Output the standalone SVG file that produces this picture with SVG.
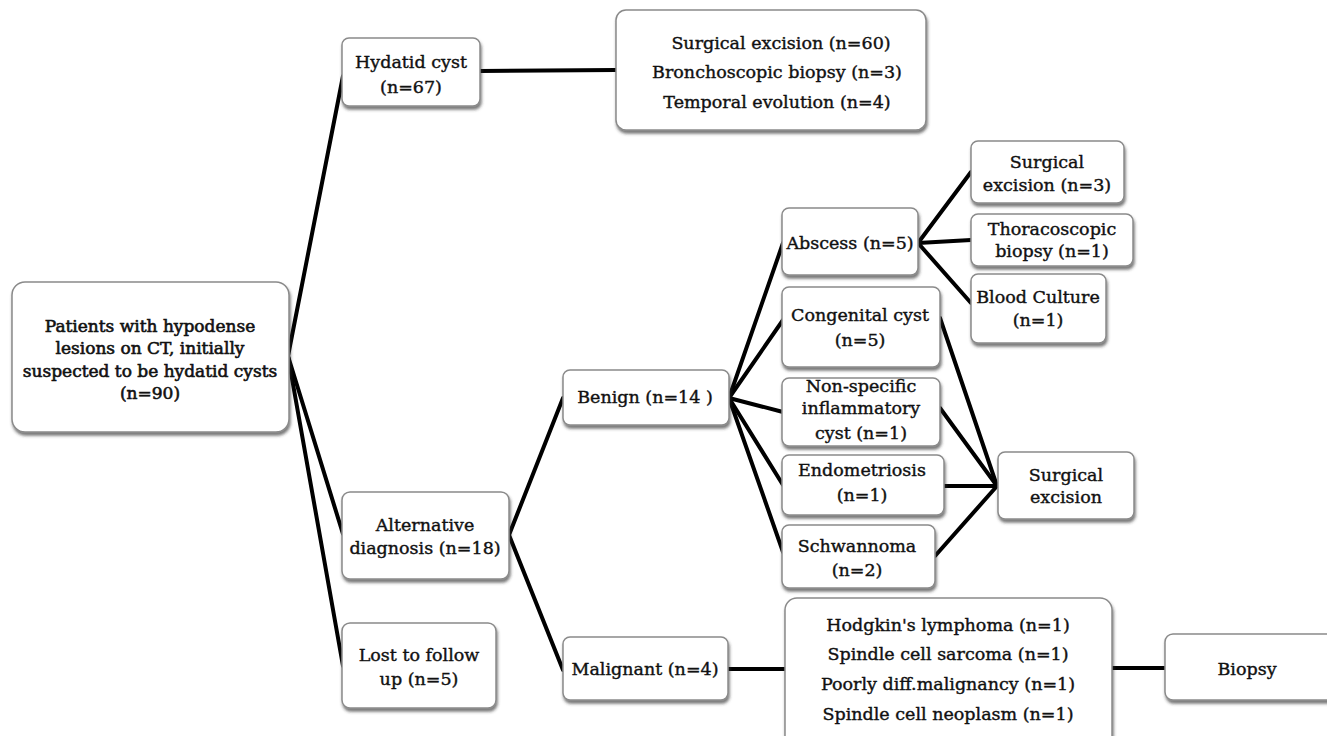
<svg xmlns="http://www.w3.org/2000/svg" width="1327" height="736" viewBox="0 0 1327 736">
<defs>
<filter id="sh" x="-10%" y="-10%" width="120%" height="130%">
<feDropShadow dx="1" dy="3" stdDeviation="1.6" flood-color="#333" flood-opacity="0.65"/>
</filter>
</defs>
<style>
.box{fill:#fff;stroke:#8a8a8a;stroke-width:1.5;filter:url(#sh)}
.t{font-family:"DejaVu Serif","Liberation Serif",serif;font-size:17.5px;fill:#111;stroke:#111;stroke-width:0.4;text-anchor:middle}
.b{font-size:17px;stroke-width:0.6}
.c{stroke:#000;stroke-width:4;fill:none;stroke-linecap:round}
</style>
<rect width="1327" height="736" fill="#fff"/>
<g id="connectors">
<line class="c" x1="288" y1="356" x2="343" y2="76"/>
<line class="c" x1="288" y1="356" x2="343" y2="534"/>
<line class="c" x1="288" y1="356" x2="343" y2="666"/>
<line class="c" x1="480" y1="71" x2="616" y2="70"/>
<line class="c" x1="509" y1="535" x2="563" y2="398"/>
<line class="c" x1="509" y1="535" x2="563" y2="670"/>
<line class="c" x1="729" y1="398" x2="783" y2="243"/>
<line class="c" x1="729" y1="398" x2="783" y2="320"/>
<line class="c" x1="729" y1="398" x2="783" y2="412"/>
<line class="c" x1="729" y1="398" x2="783" y2="485"/>
<line class="c" x1="729" y1="398" x2="783" y2="552"/>
<line class="c" x1="918" y1="243" x2="971" y2="172"/>
<line class="c" x1="918" y1="243" x2="971" y2="240"/>
<line class="c" x1="918" y1="243" x2="971" y2="303"/>
<line class="c" x1="940" y1="318" x2="997" y2="486"/>
<line class="c" x1="940" y1="408" x2="997" y2="486"/>
<line class="c" x1="944" y1="486" x2="997" y2="486"/>
<line class="c" x1="935" y1="556" x2="997" y2="486"/>
<line class="c" x1="728" y1="669" x2="785" y2="669"/>
<line class="c" x1="1112" y1="668" x2="1165" y2="668"/>
</g>
<g id="root">
<rect class="box" x="12" y="282" width="277" height="150" rx="13"/>
<text class="t b" x="150" y="332">Patients with hypodense</text>
<text class="t b" x="150" y="354">lesions on CT, initially</text>
<text class="t b" x="150" y="377">suspected to be hydatid cysts</text>
<text class="t b" x="150" y="399">(n=90)</text>
</g>
<g id="hydatid">
<rect class="box" x="342" y="38" width="138" height="68" rx="7"/>
<text class="t" x="411" y="68">Hydatid cyst</text>
<text class="t" x="411" y="93">(n=67)</text>
</g>
<g id="hydatid-outcome">
<rect class="box" x="616" y="10" width="310" height="120" rx="10"/>
<text class="t" x="781" y="49">Surgical  excision (n=60)</text>
<text class="t" x="777" y="78">Bronchoscopic biopsy (n=3)</text>
<text class="t" x="777" y="108">Temporal  evolution (n=4)</text>
</g>
<g id="abscess">
<rect class="box" x="782" y="208" width="136" height="67" rx="7"/>
<text class="t" x="850" y="249">Abscess (n=5)</text>
</g>
<g id="abscess-surgical">
<rect class="box" x="971" y="141" width="153" height="62" rx="7"/>
<text class="t" x="1047" y="168">Surgical</text>
<text class="t" x="1047" y="191">excision (n=3)</text>
</g>
<g id="thoracoscopic">
<rect class="box" x="971" y="214" width="162" height="52" rx="7"/>
<text class="t" x="1052" y="235">Thoracoscopic</text>
<text class="t" x="1052" y="257">biopsy (n=1)</text>
</g>
<g id="blood-culture">
<rect class="box" x="971" y="274" width="135" height="69" rx="7"/>
<text class="t" x="1038" y="303">Blood Culture</text>
<text class="t" x="1038" y="326">(n=1)</text>
</g>
<g id="congenital">
<rect class="box" x="782" y="287" width="158" height="80" rx="7"/>
<text class="t" x="860" y="321">Congenital cyst</text>
<text class="t" x="860" y="346">(n=5)</text>
</g>
<g id="nonspecific">
<rect class="box" x="782" y="378" width="158" height="68" rx="7"/>
<text class="t" x="861" y="392">Non-specific</text>
<text class="t" x="861" y="414">inflammatory</text>
<text class="t" x="861" y="439">cyst (n=1)</text>
</g>
<g id="endometriosis">
<rect class="box" x="782" y="455" width="162" height="60" rx="7"/>
<text class="t" x="862" y="476">Endometriosis</text>
<text class="t" x="862" y="501">(n=1)</text>
</g>
<g id="schwannoma">
<rect class="box" x="782" y="525" width="153" height="63" rx="7"/>
<text class="t" x="857" y="552">Schwannoma</text>
<text class="t" x="857" y="576">(n=2)</text>
</g>
<g id="benign-surgical">
<rect class="box" x="998" y="452" width="136" height="67" rx="7"/>
<text class="t" x="1066" y="481">Surgical</text>
<text class="t" x="1066" y="503">excision</text>
</g>
<g id="benign">
<rect class="box" x="563" y="370" width="166" height="55" rx="7"/>
<text class="t" x="645" y="403">Benign (n=14 )</text>
</g>
<g id="alternative">
<rect class="box" x="342" y="492" width="167" height="87" rx="8"/>
<text class="t" x="425" y="531">Alternative</text>
<text class="t" x="425" y="554">diagnosis (n=18)</text>
</g>
<g id="lost">
<rect class="box" x="342" y="623" width="154" height="85" rx="8"/>
<text class="t" x="419" y="661">Lost to follow</text>
<text class="t" x="419" y="685">up (n=5)</text>
</g>
<g id="malignant">
<rect class="box" x="563" y="637" width="165" height="63" rx="7"/>
<text class="t" x="645" y="675">Malignant (n=4)</text>
</g>
<g id="malignant-types">
<rect class="box" x="785" y="598" width="327" height="150" rx="12"/>
<text class="t" x="948" y="631">Hodgkin's lymphoma (n=1)</text>
<text class="t" x="948" y="660">Spindle cell sarcoma (n=1)</text>
<text class="t" x="948" y="690">Poorly diff.malignancy (n=1)</text>
<text class="t" x="948" y="720">Spindle cell neoplasm (n=1)</text>
</g>
<g id="biopsy">
<rect class="box" x="1165" y="634" width="175" height="66" rx="8"/>
<text class="t" x="1247" y="675">Biopsy</text>
</g>
</svg>
